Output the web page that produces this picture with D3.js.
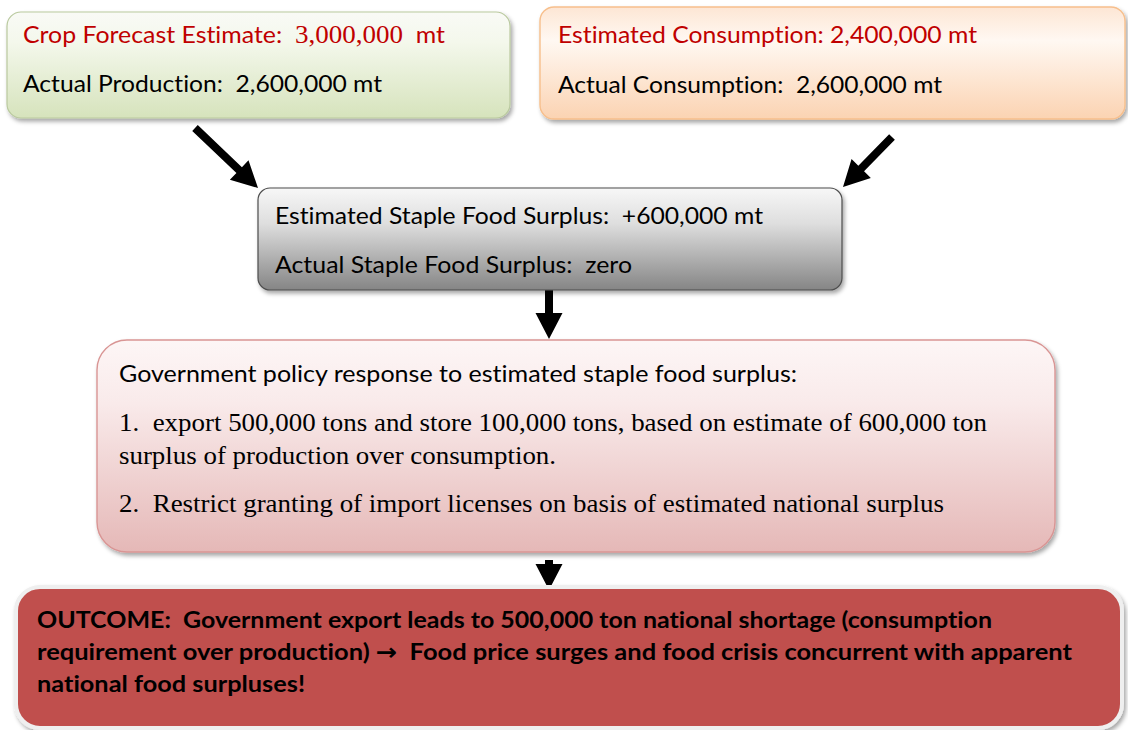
<!DOCTYPE html>
<html>
<head>
<meta charset="utf-8">
<script src="https://cdn.jsdelivr.net/npm/d3@7/dist/d3.min.js"></script>
<style>
  html, body { margin: 0; padding: 0; background: #fff; }
  svg { display: block; }
  text { white-space: pre; font-variant-ligatures: none; font-feature-settings: "liga" 0, "clig" 0; }
</style>
</head>
<body>
<div id="chart"></div>
<script>
'use strict';

// box contents, top to bottom
var productionLines = [
  [{t: 'Crop Forecast Estimate:  ', f: 'sans'}, {t: '3,000,000', f: 'serif'}, {t: '  mt', f: 'sans'}],
  [{t: 'Actual Production:  2,600,000 mt', f: 'sans'}]
];
var consumptionLines = [
  [{t: 'Estimated Consumption: 2,400,000 mt', f: 'sans'}],
  [{t: 'Actual Consumption:  2,600,000 mt', f: 'sans'}]
];
var surplusLines = [
  [{t: 'Estimated Staple Food Surplus:  +600,000 mt', f: 'sans'}],
  [{t: 'Actual Staple Food Surplus:  zero', f: 'sans'}]
];
var policyLines = [
  [{t: 'Government policy response to estimated staple food surplus:', f: 'sans'}],
  [{t: '1.  export 500,000 tons and store 100,000 tons, based on estimate of 600,000 ton', f: 'serif'}],
  [{t: 'surplus of production over consumption.', f: 'serif'}],
  [{t: '2.  Restrict granting of import licenses on basis of estimated national surplus', f: 'serif'}]
];
var outcomeLines = [
  [{t: 'OUTCOME:  Government export leads to 500,000 ton national shortage (consumption', f: 'sans'}],
  [{t: 'requirement over production) ', f: 'sans'}, {t: '\u2192', f: 'arrow'}, {t: '  Food price surges and food crisis concurrent with apparent', f: 'sans'}],
  [{t: 'national food surpluses!', f: 'sans'}]
];
var lineColors = {
  production: ['#c00000', '#000'],
  consumption: ['#c00000', '#000'],
  surplus: ['#000', '#000'],
  policy: ['#000', '#000', '#000', '#000'],
  outcome: ['#000', '#000', '#000']
};
var flows = [
  ['production', 'surplus'],
  ['consumption', 'surplus'],
  ['surplus', 'policy'],
  ['policy', 'outcome']
];

// layout
var W = 1128, H = 730;
var fonts = {
  sans: 'Lato, "Open Sans", sans-serif',
  serif: '"Liberation Serif", "Times New Roman", serif',
  arrow: '"DejaVu Sans", sans-serif'
};

var boxes = [
  { id: 'production', lines: productionLines, x: 7, y: 12, w: 503, h: 106, r: 14,
    stops: [[0, '#f9faf6'], [0.28, '#f4f8ec'], [1, '#d6e3bc']], stroke: '#b9c99e', sw: 1.2,
    tx: 23, baselines: [43, 92], ends: [445, 382], size: 23, weight: 400 },
  { id: 'consumption', lines: consumptionLines, x: 540, y: 7, w: 585, h: 112, r: 14,
    stops: [[0, '#fde6d4'], [0.3, '#fff8f2'], [1, '#fbd3b2']], stroke: '#f7bf8c', sw: 1.4,
    tx: 558, baselines: [43, 93], ends: [977, 942], size: 23, weight: 400 },
  { id: 'surplus', lines: surplusLines, x: 258, y: 188, w: 584, h: 102, r: 12,
    stops: [[0, '#f7f7f7'], [0.35, '#dedede'], [1, '#858585']], stroke: '#4d4d4d', sw: 1.2,
    tx: 275, baselines: [224, 273], ends: [763, 632], size: 23, weight: 400 },
  { id: 'policy', lines: policyLines, x: 97, y: 340, w: 958, h: 212, r: 30,
    stops: [[0, '#fdf6f6'], [0.3, '#f9eaea'], [1, '#e5b8b7']], stroke: '#d99594', sw: 1.4,
    tx: 119, baselines: [382, 431, 464, 512], ends: [797, 987, 556, 944], size: 23, weight: 400 },
  { id: 'outcome', lines: outcomeLines, x: 16, y: 587, w: 1106, h: 141, r: 24,
    stops: [[0, '#c0504d'], [1, '#c0504d']], stroke: '#efefef', sw: 4,
    tx: 37, baselines: [628, 660, 692], ends: [992, 1072, 305], size: 23, weight: 700 }
];

var arrows = {
  'production>surplus': { tail: [195, 128], tip: [258, 188] },
  'consumption>surplus': { tail: [892, 137], tip: [843, 187] },
  'surplus>policy': { tail: [549, 290], tip: [549, 339] },
  'policy>outcome': { tail: [549, 560], tip: [549, 590] }
};
var shaftW = 8, headW = 27, headL = 26;

var svg = d3.select('#chart').append('svg')
    .attr('width', W)
    .attr('height', H);

var defs = svg.append('defs');

var shadow = defs.append('filter')
    .attr('id', 'shadow')
    .attr('x', '-5%').attr('y', '-10%')
    .attr('width', '112%').attr('height', '125%');
shadow.append('feDropShadow')
    .attr('dx', 2).attr('dy', 3)
    .attr('stdDeviation', 2)
    .attr('flood-color', '#000')
    .attr('flood-opacity', 0.35);

boxes.forEach(function(b) {
  var g = defs.append('linearGradient')
      .attr('id', 'grad-' + b.id)
      .attr('x1', 0).attr('y1', 0).attr('x2', 0).attr('y2', 1);
  g.selectAll('stop')
      .data(b.stops)
      .enter().append('stop')
        .attr('offset', function(d) { return d[0]; })
        .attr('stop-color', function(d) { return d[1]; });
});

// arrows sit under the boxes
var arrowLine = d3.line();
function arrowPoints(a) {
  var dx = a.tip[0] - a.tail[0], dy = a.tip[1] - a.tail[1];
  var len = Math.sqrt(dx * dx + dy * dy);
  var ux = dx / len, uy = dy / len, px = -uy, py = ux;
  var bx = a.tip[0] - ux * headL, by = a.tip[1] - uy * headL;
  return [
    [a.tail[0] + px * shaftW / 2, a.tail[1] + py * shaftW / 2],
    [bx + px * shaftW / 2, by + py * shaftW / 2],
    [bx + px * headW / 2, by + py * headW / 2],
    a.tip,
    [bx - px * headW / 2, by - py * headW / 2],
    [bx - px * shaftW / 2, by - py * shaftW / 2],
    [a.tail[0] - px * shaftW / 2, a.tail[1] - py * shaftW / 2]
  ];
}

svg.append('g')
    .attr('class', 'arrows')
  .selectAll('path')
  .data(flows)
  .enter().append('path')
    .attr('d', function(d) { return arrowLine(arrowPoints(arrows[d[0] + '>' + d[1]])) + 'Z'; })
    .attr('fill', '#000');

var box = svg.append('g')
    .attr('class', 'boxes')
  .selectAll('g')
  .data(boxes)
  .enter().append('g');

box.append('rect')
    .attr('x', function(d) { return d.x; })
    .attr('y', function(d) { return d.y; })
    .attr('width', function(d) { return d.w; })
    .attr('height', function(d) { return d.h; })
    .attr('rx', function(d) { return d.r; })
    .attr('fill', function(d) { return 'url(#grad-' + d.id + ')'; })
    .attr('stroke', function(d) { return d.stroke; })
    .attr('stroke-width', function(d) { return d.sw; })
    .attr('filter', 'url(#shadow)');

box.each(function(b) {
  var lines = d3.select(this).selectAll('text')
      .data(b.lines)
      .enter().append('text')
        .attr('x', b.tx)
        .attr('y', function(d, i) { return b.baselines[i]; })
        .attr('fill', function(d, i) { return lineColors[b.id][i]; })
        .attr('font-size', b.size)
        .attr('font-weight', b.weight);

  lines.selectAll('tspan')
      .data(function(d) { return d; })
      .enter().append('tspan')
        .attr('font-family', function(d) { return fonts[d.f]; })
        .attr('font-size', function(d) { return d.f === 'serif' ? b.size + 2 : b.size; })
        .text(function(d) { return d.t; });

  // squeeze each line to the width it has in the original
  lines.each(function(d, i) {
    this.setAttribute('textLength', b.ends[i] - b.tx);
    this.setAttribute('lengthAdjust', 'spacingAndGlyphs');
  });
});
</script>
</body>
</html>
